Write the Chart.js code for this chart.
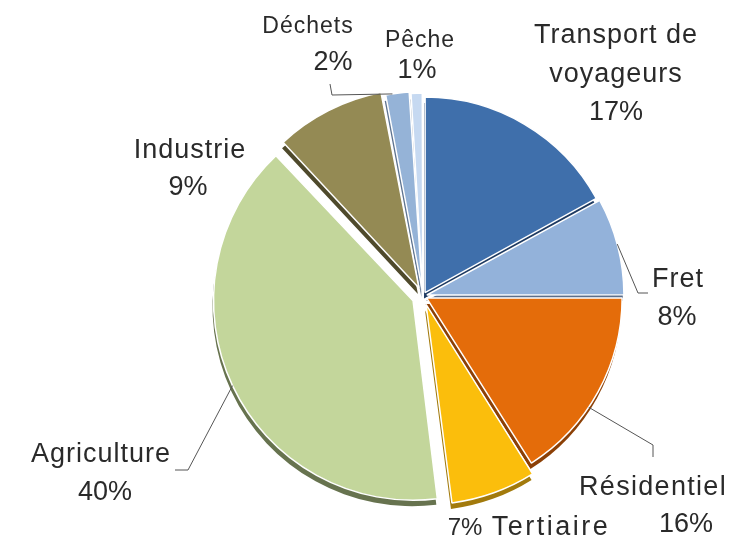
<!DOCTYPE html>
<html>
<head>
<meta charset="utf-8">
<script src="https://cdn.jsdelivr.net/npm/chart.js@4"></script>
<style>
  html, body { margin: 0; padding: 0; background: #fff; }
  canvas { display: block; }
</style>
</head>
<body>
<canvas id="graphique" width="731" height="538"></canvas>
<script>
// données (parts en %)
const categories = ['Transport de\nvoyageurs', 'Fret', 'Résidentiel', 'Tertiaire', 'Agriculture', 'Industrie', 'Déchets', 'Pêche'];
const parts = [17, 8, 16, 7, 40, 9, 2, 1];

const couleurs = ['#3f6fab', '#93b2da', '#e46c0a', '#fbbe0c', '#c3d69b', '#948a54', '#95b3d7', '#c6d9f1'];
const ombres = ['#1e3a61', '#5b6f8c', '#8c4006', '#a27a0c', '#67734f', '#4f4a2c', '#5f7490', '#8896a8'];
const decalages = [16, 16, 16, 36, 44, 36, 20, 16];

// placement des étiquettes (texte + traits de rappel)
const etiquettes = [
  { x: 616, y: 43, taille: 27, ecart: 1, px: 616, py: 120, ptaille: 27 },
  { x: 678, y: 287, taille: 27, ecart: 1, px: 677, py: 325, ptaille: 27, frac: 0.48, trait: [[638, 293], [648, 293]] },
  { x: 653, y: 495, taille: 27, ecart: 1.3, px: 686, py: 532, ptaille: 27, frac: 0.59, trait: [[653, 445], [653, 457]] },
  { x: 551, y: 535, taille: 27, ecart: 2.5, px: 465, py: 535, ptaille: 24 },
  { x: 101, y: 462, taille: 27, ecart: 1, px: 105, py: 500, ptaille: 27, frac: 0.5, trait: [[188, 470], [175, 470]] },
  { x: 190, y: 158, taille: 27, ecart: 1, px: 188, py: 195, ptaille: 27 },
  { x: 308, y: 33, taille: 23, ecart: 1, px: 333, py: 70, ptaille: 27, frac: 0.3, trait: [[332, 95], [330, 84]] },
  { x: 420, y: 47, taille: 23, ecart: 1, px: 417, py: 78, ptaille: 27 }
];

const police = '"Liberation Sans", Arial, sans-serif';

// ombre "3D" : on redessine chaque part décalée vers le bas avec une teinte foncée
const pluginOmbre = {
  id: 'ombre',
  beforeDatasetsDraw(chart) {
    const ctx = chart.ctx;
    const meta = chart.getDatasetMeta(0);
    ctx.save();
    ctx.translate(-1, 6);
    meta.data.forEach((arc, i) => {
      const orig = arc.options;
      arc.options = Object.assign({}, orig, { backgroundColor: ombres[i], borderColor: ombres[i], borderWidth: 0 });
      arc.draw(ctx);
      arc.options = orig;
    });
    ctx.restore();
  }
};

const pluginEtiquettes = {
  id: 'etiquettes',
  afterDatasetsDraw(chart) {
    const ctx = chart.ctx;
    const meta = chart.getDatasetMeta(0);
    ctx.save();
    ctx.fillStyle = '#2a2a2a';
    ctx.strokeStyle = '#555';
    ctx.lineWidth = 1;
    ctx.textAlign = 'center';
    ctx.textBaseline = 'alphabetic';

    etiquettes.forEach((e, i) => {
      const arc = meta.data[i];
      // trait de rappel partant du bord de la part (même calcul que l'ArcElement)
      if (e.trait) {
        const circ = arc.endAngle - arc.startAngle;
        const ang = arc.startAngle + circ * e.frac;
        const mid = (arc.startAngle + arc.endAngle) / 2;
        const dec = (arc.options.offset || 0) / 4;
        const r = arc.outerRadius + dec * (1 - Math.sin(Math.min(Math.PI, circ)));
        const sx = arc.x + Math.cos(mid) * dec + Math.cos(ang) * r;
        const sy = arc.y + Math.sin(mid) * dec + Math.sin(ang) * r;
        ctx.beginPath();
        ctx.moveTo(sx, sy);
        e.trait.forEach(p => ctx.lineTo(p[0], p[1]));
        ctx.stroke();
      }

      ctx.letterSpacing = e.ecart + 'px';
      ctx.font = e.taille + 'px ' + police;
      categories[i].split('\n').forEach((ligne, k) => {
        ctx.fillText(ligne, e.x, e.y + k * 39);
      });
      ctx.letterSpacing = '0px';
      ctx.font = e.ptaille + 'px ' + police;
      ctx.fillText(parts[i] + '%', e.px, e.py);
    });
    ctx.restore();
  }
};

new Chart(document.getElementById('graphique'), {
  type: 'pie',
  data: {
    labels: categories,
    datasets: [{
      data: parts,
      backgroundColor: couleurs,
      borderColor: '#ffffff',
      borderWidth: 1.5,
      offset: decalages
    }]
  },
  options: {
    responsive: false,
    animation: false,
    radius: 195,
    layout: { padding: { left: 115, right: 0, top: 54, bottom: 0 } },
    plugins: {
      legend: { display: false },
      tooltip: { enabled: false }
    }
  },
  plugins: [pluginOmbre, pluginEtiquettes]
});
</script>
</body>
</html>
